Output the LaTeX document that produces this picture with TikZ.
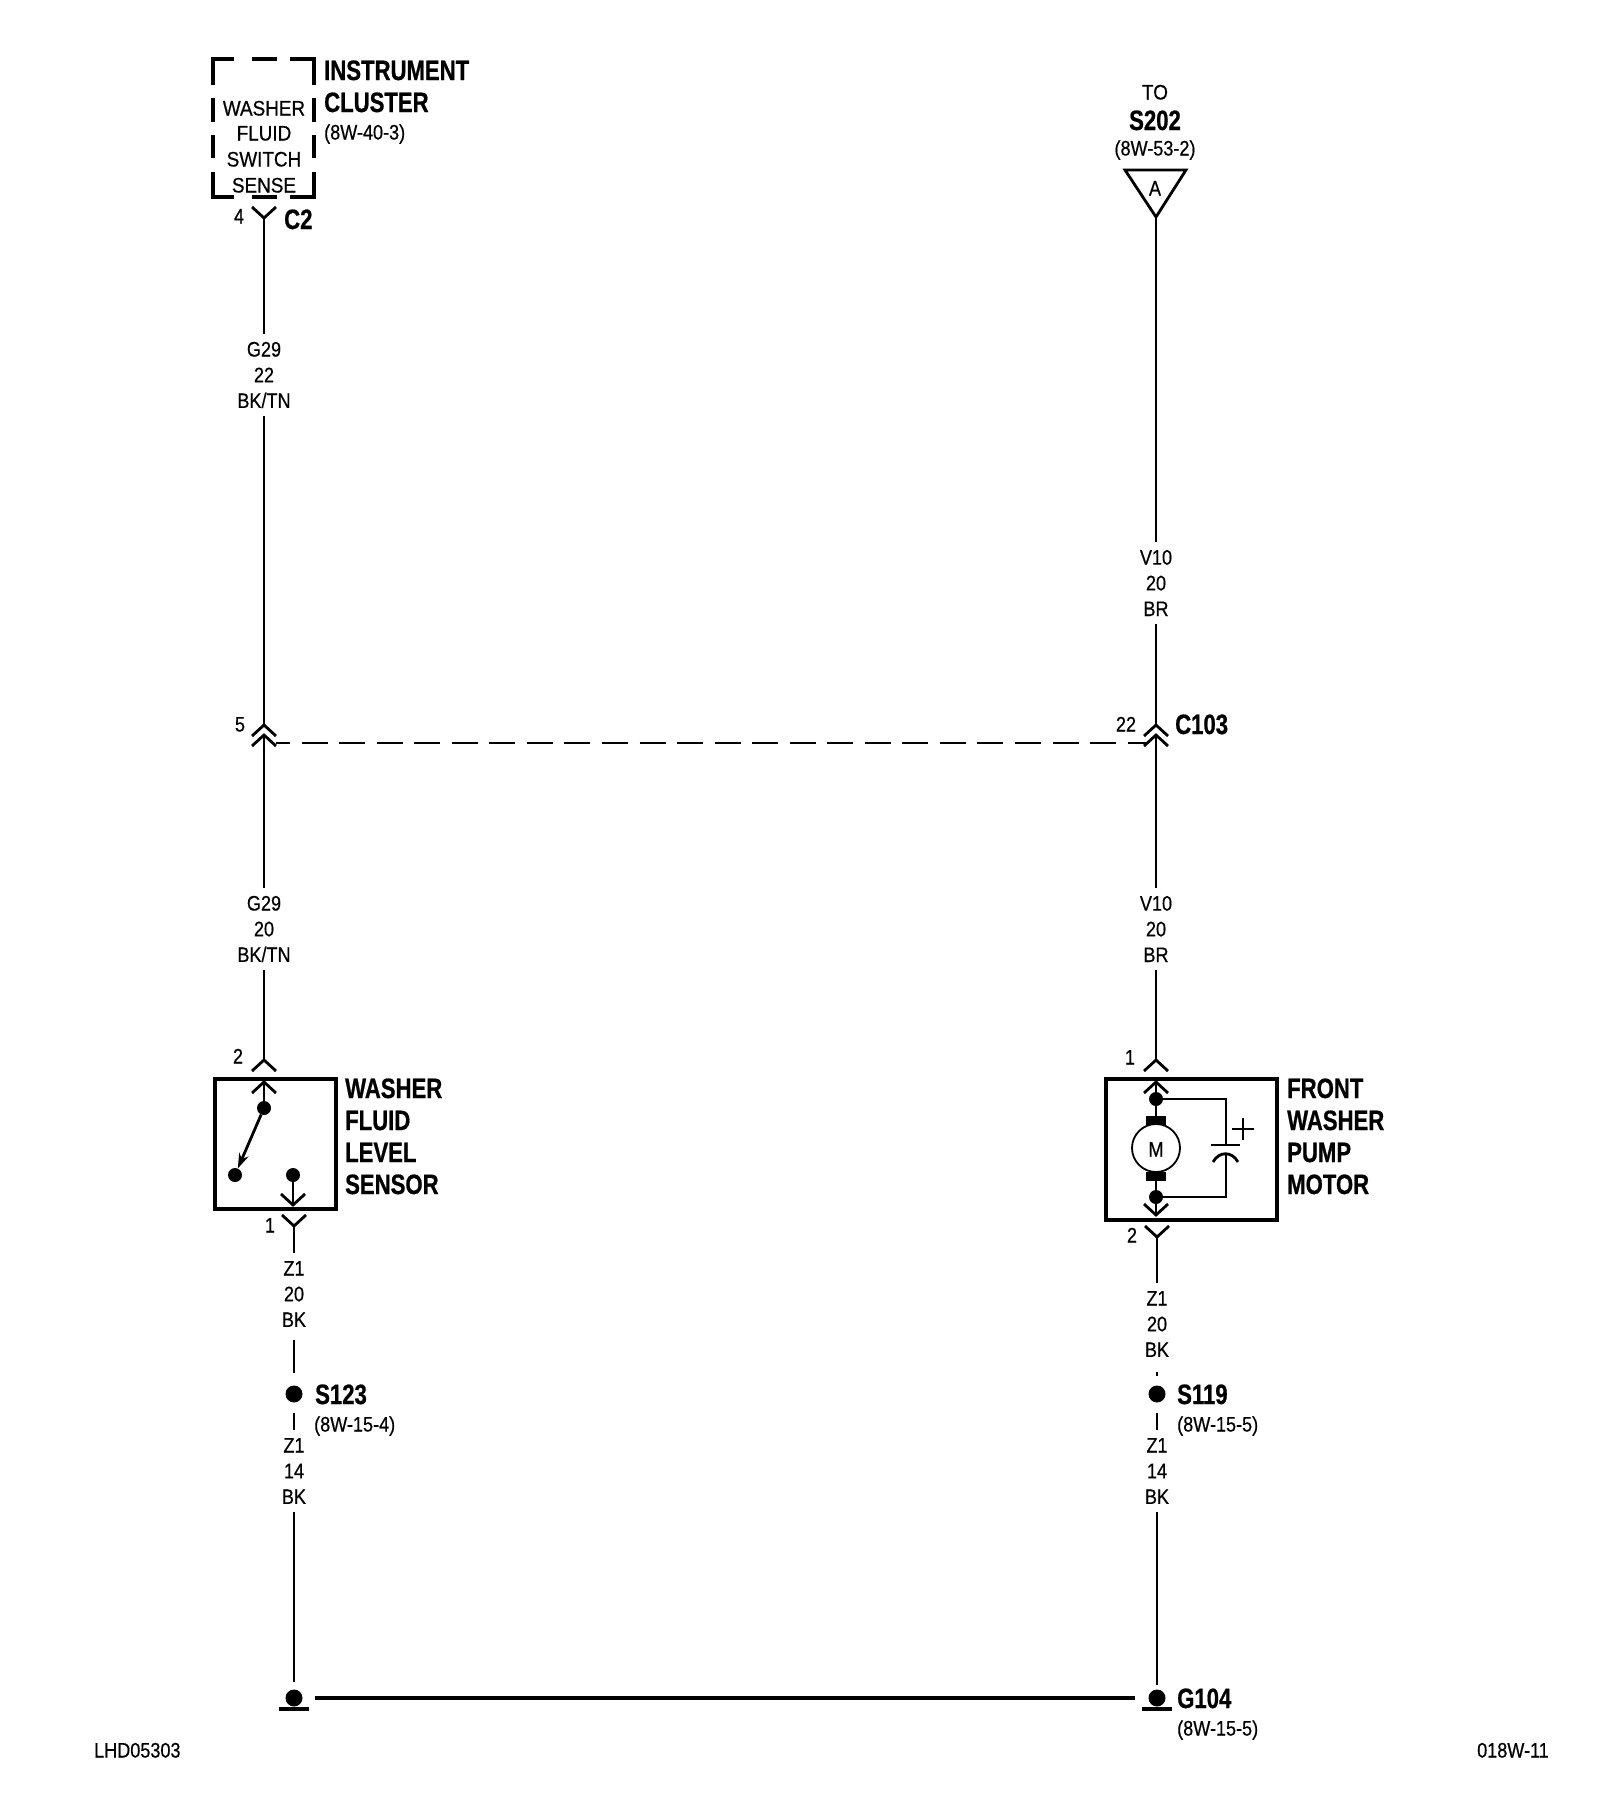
\documentclass[tikz,border=0pt]{standalone}
\usepackage{fontspec}
\usetikzlibrary{arrows.meta}
\setmainfont{Liberation Sans}
\newfontfamily\regfam[FakeStretch=0.86,FakeBold=0.5]{Liberation Sans}
\newfontfamily\boxfam[FakeStretch=0.90,FakeBold=0.5]{Liberation Sans}
\newfontfamily\boldfam[FakeStretch=0.79,FakeBold=0.7]{Liberation Sans Bold}
\tikzset{
  wire/.style={draw=black,line width=2.8pt},
  thick box/.style={draw=black,line width=4.2pt,line cap=butt,line join=miter},
  wlabel/.style={font=\regfam\fontsize{21}{25.7}\selectfont,align=center,inner xsep=0pt,inner ysep=8pt},
  blabel/.style={font=\boxfam\fontsize{21}{25}\selectfont,align=center,inner sep=0pt,text height=15pt,text depth=0pt},
  small/.style={font=\regfam\fontsize{21}{25}\selectfont,inner sep=0pt,text height=15pt,text depth=0pt},
  title/.style={font=\boldfam\fontsize{28}{30}\selectfont,inner sep=0pt,text height=20pt,text depth=0pt},
  dot/.style={circle,fill=black,inner sep=0pt,minimum size=#1},
  dot/.default=14pt,
  chevup/.pic={\draw[wire,line join=miter] (-12,11)--(0,0)--(12,11);},
  chevdown/.pic={\draw[wire,line join=miter] (-12,-11)--(0,0)--(12,-11);},
  groundbar/.pic={\draw[black,line width=4pt] (-15,0)--(15,0);},
}
\begin{document}
\begin{tikzpicture}[x=1pt,y=-1pt]
\fill[white] (0,0) rectangle (1600,1796);
\useasboundingbox (0,0) rectangle (1600,1796);

%% Instrument cluster dashed box
\draw[thick box] (213,85)--(213,59)--(234,59);
\draw[thick box] (252,59)--(277,59);
\draw[thick box] (290,59)--(314,59)--(314,85);
\draw[thick box] (213,98)--(213,122);
\draw[thick box] (213,135)--(213,158);
\draw[thick box] (213,172)--(213,197)--(234,197);
\draw[thick box] (252,197)--(277,197);
\draw[thick box] (290,197)--(314,197)--(314,172);
\draw[thick box] (314,98)--(314,122);
\draw[thick box] (314,135)--(314,158);
\node[blabel] (t1) at (264,108) {WASHER};
\node[blabel] (t2) at (264,133) {FLUID};
\node[blabel] (t3) at (264,159) {SWITCH};
\node[blabel] (t4) at (264,185) {SENSE};
\node[title,anchor=west] (inst) at (324,70) {INSTRUMENT};
\node[title,anchor=west] (clus) at (324,102) {CLUSTER};
\node[small,anchor=west] (ref1) at (324,132) {(8W-40-3)};

%% Left column
\coordinate (c2) at (264,218);
\pic at (c2) {chevdown};
\node[small] (p4) at (239,216) {4};
\node[title,anchor=west] (c2t) at (284,219) {C2};
\node[wlabel] (g29a) at (264,375) {G29\\22\\BK/TN};
\draw[wire] (c2) -- (g29a.north);
\coordinate (l1) at (264,725);
\coordinate (l2) at (264,735);
\pic at (l1) {chevup};
\pic at (l2) {chevup};
\draw[wire] (g29a.south) -- (l1);
\node[small] (p5) at (240,724) {5};
\node[wlabel] (g29b) at (264,929) {G29\\20\\BK/TN};
\draw[wire] (l2) -- (g29b.north);
\coordinate (l3) at (264,1060);
\pic at (l3) {chevup};
\draw[wire] (g29b.south) -- (l3);
\node[small] (p2) at (238,1056) {2};

%% Washer fluid level sensor
\node[thick box,minimum width=121pt,minimum height=130pt,inner sep=0pt,anchor=north west] (sensor) at (213,1077) {};
\coordinate (l4) at (264,1082);
\pic at (l4) {chevup};
\node[dot] (sw1) at (264,1108) {};
\node[dot] (sw2) at (235,1175) {};
\node[dot] (sw3) at (293,1175) {};
\draw[wire] (l4) -- (sw1);
\draw[wire,-{Stealth[length=15pt,width=10pt]}] (sw1) -- (sw2);
\coordinate (l5) at (293,1205);
\pic at (l5) {chevdown};
\draw[wire] (sw3) -- (l5);
\node[title,anchor=west] (w1) at (345,1088) {WASHER};
\node[title,anchor=west] (w2) at (345,1120) {FLUID};
\node[title,anchor=west] (w3) at (345,1152) {LEVEL};
\node[title,anchor=west] (w4) at (345,1184) {SENSOR};
\coordinate (l6) at (294,1226);
\pic at (l6) {chevdown};
\node[small] (p1) at (270,1225) {1};
\node[wlabel] (z1a) at (294,1294) {Z1\\20\\BK};
\draw[wire] (l6) -- (z1a.north);
\node[dot=17pt] (s123) at (294,1394) {};
\draw[wire,shorten >=12pt,shorten <=5pt] (z1a.south) -- (s123);
\node[title,anchor=west] (s123t) at (315,1394) {S123};
\node[small,anchor=west] (ref2) at (314,1424) {(8W-15-4)};
\node[wlabel] (z1b) at (294,1471) {Z1\\14\\BK};
\draw[wire,shorten <=10pt] (s123) -- (z1b.north);
\node[dot=17pt] (gl) at (294,1698) {};
\pic at (294,1709) {groundbar};
\draw[wire,shorten >=7pt] (z1b.south) -- (gl);

%% Ground line
\node[dot=17pt] (gr) at (1157,1698) {};
\pic at (1157,1709) {groundbar};
\draw[black,line width=4pt,shorten <=12pt,shorten >=13pt] (gl) -- (gr);
\node[title,anchor=west] (g104) at (1177,1698) {G104};
\node[small,anchor=west] (ref3) at (1177,1728) {(8W-15-5)};

%% Dashed link
\coordinate (dl) at (276,743);
\coordinate (dr) at (1146,743);
\draw[wire,dash pattern=on 26pt off 11.55pt,dash phase=12pt] (dl) -- (dr);

%% Right column
\node[blabel] (to) at (1155,92) {TO};
\node[title] (s202) at (1155,120) {S202};
\node[small] (ref4) at (1155,148) {(8W-53-2)};
\coordinate (ta) at (1125,170);
\coordinate (tb) at (1186,170);
\coordinate (tc) at (1156,217);
\draw[wire,line join=miter] (ta) -- (tb) -- (tc) -- cycle;
\node[small] (a) at (1155,188) {A};
\node[wlabel] (v10a) at (1156,583) {V10\\20\\BR};
\draw[wire] (tc) -- (v10a.north);
\coordinate (r1) at (1156,725);
\coordinate (r2) at (1156,735);
\pic at (r1) {chevup};
\pic at (r2) {chevup};
\draw[wire] (v10a.south) -- (r1);
\node[small] (p22) at (1126,724) {22};
\node[title,anchor=west] (c103) at (1175,724) {C103};
\node[wlabel] (v10b) at (1156,929) {V10\\20\\BR};
\draw[wire] (r2) -- (v10b.north);
\coordinate (r3) at (1156,1060);
\pic at (r3) {chevup};
\draw[wire] (v10b.south) -- (r3);
\node[small] (pr1) at (1130,1057) {1};

%% Motor
\node[thick box,minimum width=171pt,minimum height=141pt,inner sep=0pt,anchor=north west] (motorbox) at (1104,1077) {};
\coordinate (r4) at (1156,1082);
\pic at (r4) {chevup};
\node[dot] (m1) at (1156,1099) {};
\node[dot] (m2) at (1156,1197) {};
\node[fill=black,inner sep=0pt,minimum width=20pt,minimum height=9pt] (b1) at (1156,1120.5) {};
\node[fill=black,inner sep=0pt,minimum width=20pt,minimum height=9pt] (b2) at (1156,1176.5) {};
\node[circle,draw=black,line width=1.8pt,minimum size=48pt,inner sep=0pt] (motor) at (1156,1148) {};
\node[small] (mt) at (1156,1149) {M};
\draw[wire] (r4) -- (m1);
\draw[wire] (m1) -- (b1);
\draw[wire] (b2) -- (m2);
\coordinate (r5) at (1156,1215);
\pic at (r5) {chevdown};
\draw[wire] (m2) -- (r5);
\coordinate (cp1) at (1226,1145);
\coordinate (cp2) at (1226,1154);
\draw[wire] (m1) -| (cp1);
\draw[wire] (m2) -| (cp2);
\draw[wire] (1211,1145) -- (1240,1145);
\draw[wire] (1213,1162) .. controls (1219,1151) and (1232,1151) .. (1238,1162);
\draw[wire] (1232,1129) -- (1254,1129);
\draw[wire] (1243,1118) -- (1243,1140);
\node[title,anchor=west] (f1) at (1287,1088) {FRONT};
\node[title,anchor=west] (f2) at (1287,1120) {WASHER};
\node[title,anchor=west] (f3) at (1287,1152) {PUMP};
\node[title,anchor=west] (f4) at (1287,1184) {MOTOR};
\coordinate (r6) at (1157,1237);
\pic at (r6) {chevdown};
\node[small] (pr2) at (1132,1235) {2};
\node[wlabel] (z1c) at (1157,1324) {Z1\\20\\BK};
\draw[wire] (r6) -- (z1c.north);
\node[dot=17pt] (s119) at (1157,1394) {};
\draw[wire,shorten >=9pt,shorten <=7pt] (z1c.south) -- (s119);
\node[title,anchor=west] (s119t) at (1177,1394) {S119};
\node[small,anchor=west] (ref5) at (1177,1424) {(8W-15-5)};
\node[wlabel] (z1d) at (1157,1471) {Z1\\14\\BK};
\draw[wire,shorten <=10pt] (s119) -- (z1d.north);
\draw[wire,shorten >=4pt] (z1d.south) -- (gr);

%% Footers
\node[small,anchor=west] (lhd) at (94,1750) {LHD05303};
\node[small,anchor=east] (code) at (1549,1750) {018W-11};
\end{tikzpicture}
\end{document}
